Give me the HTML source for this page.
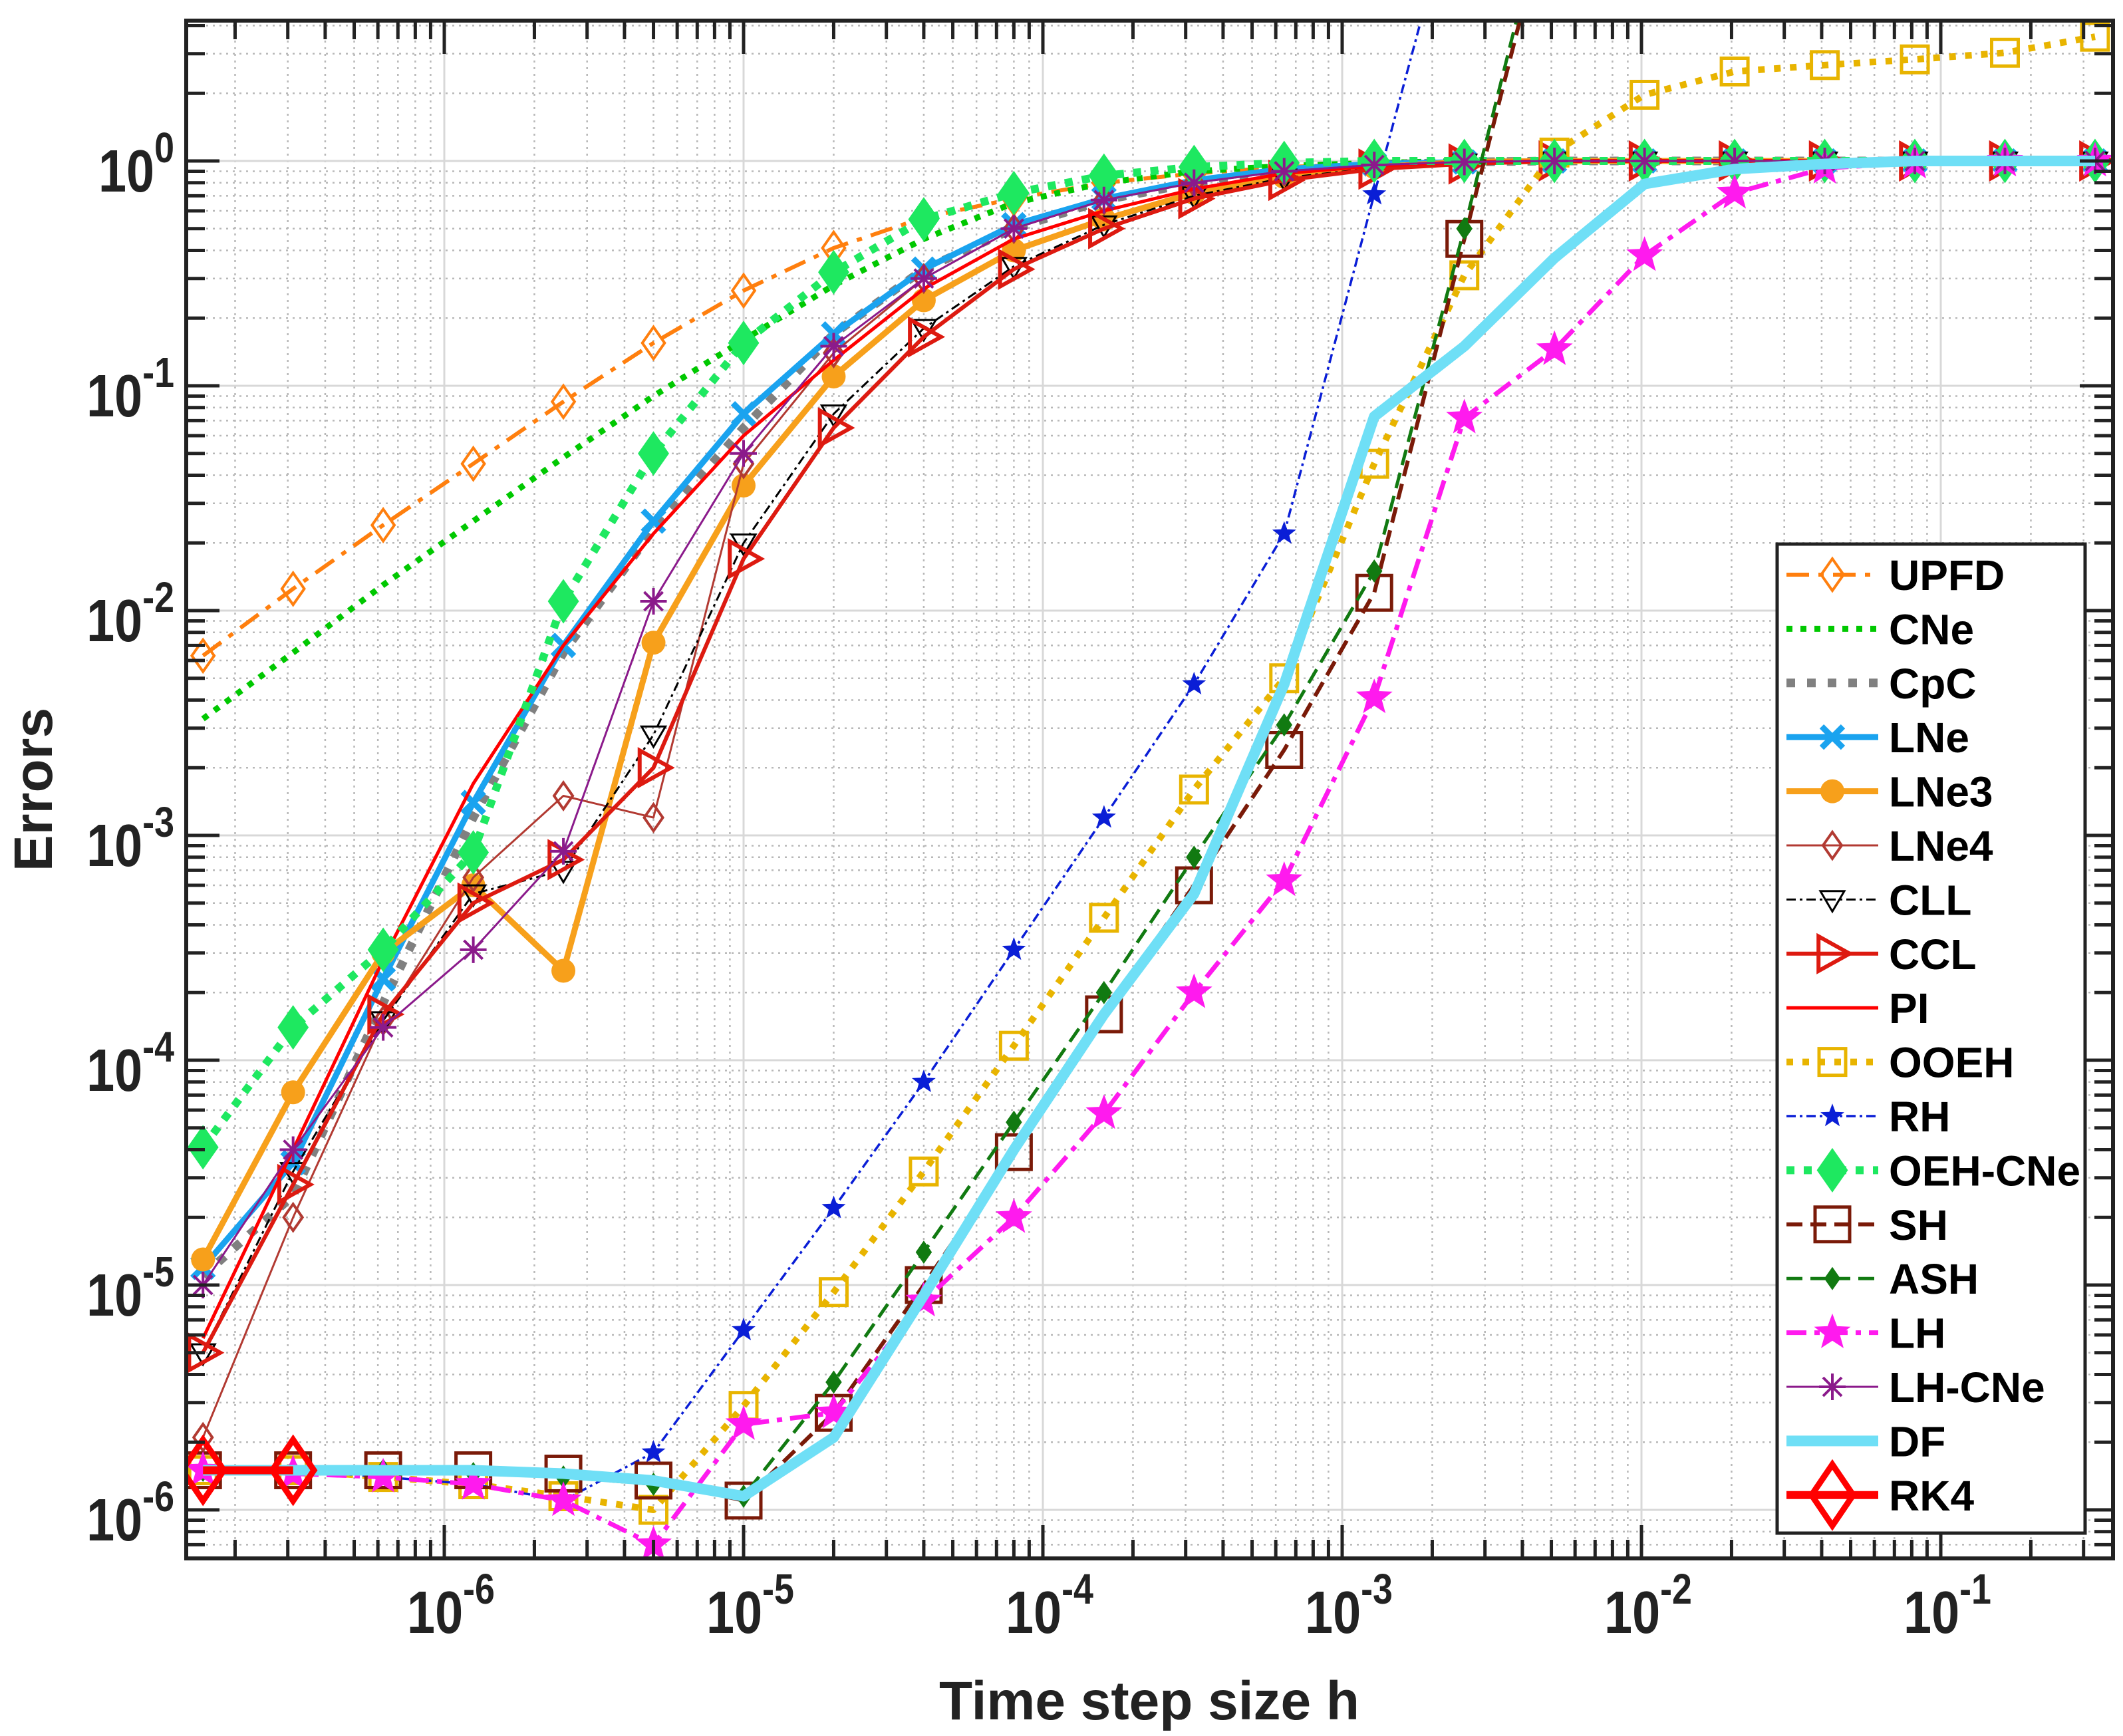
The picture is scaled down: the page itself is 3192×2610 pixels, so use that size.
<!DOCTYPE html>
<html><head><meta charset="utf-8"><title>Errors vs time step</title>
<style>
html,body{margin:0;padding:0;background:#fff;}
svg{display:block;font-family:"Liberation Sans",Arial,sans-serif;}
</style></head>
<body>
<svg id="chart" width="3192" height="2610" viewBox="0 0 3192 2610" xmlns="http://www.w3.org/2000/svg">
<defs><clipPath id="plotclip"><rect x="280" y="31" width="2897" height="2312"/></clipPath></defs>
<rect x="0" y="0" width="3192" height="2610" fill="#fff"/>
<g id="grid"></g>
<g id="series" clip-path="url(#plotclip)"></g>
<g id="axes"></g>
<g id="legend"></g>
</svg>
<script>
// ---- data ----
const stepIndex = [0,1,2,3,4,5,6,7,8,9,10,11,12,13,14,15,16,17,18,19,20,21];
const xTickExps = [-6,-5,-4,-3,-2,-1];
const yTickExps = [0,-1,-2,-3,-4,-5,-6];
const UPFD = [6.3e-3,1.25e-2,2.4e-2,4.5e-2,8.5e-2,0.155,0.265,0.41,0.56,0.68,0.8,0.88,0.94,0.97,0.99,1,1,1,1,1,1,1];
const CNe = [3.3e-3,6.5e-3,1.3e-2,2.5e-2,4.8e-2,9e-2,0.16,0.28,0.45,0.65,0.8,0.9,0.95,0.98,1,1,1,1,1,1,1,1];
const CpC = [1.1e-5,2.5e-5,1.8e-4,1.2e-3,6.5e-3,2.3e-2,6.5e-2,0.17,0.33,0.5,0.67,0.8,0.9,0.96,0.99,1,1,1,1,1,1,1];
const LNe = [1.2e-5,3.5e-5,2.3e-4,1.4e-3,7e-3,2.5e-2,7.5e-2,0.17,0.33,0.52,0.68,0.82,0.92,0.97,0.99,1,1,1,1,1,1,1];
const LNe3 = [1.3e-5,7.2e-5,3e-4,6e-4,2.5e-4,7.2e-3,3.6e-2,0.11,0.24,0.4,0.55,0.72,0.85,0.94,0.99,1,1,1,1,1,1,1];
const LNe4 = [2.1e-6,2e-5,1.5e-4,6.5e-4,1.5e-3,1.2e-3,4.5e-2,0.14,0.3,0.5,0.67,0.8,0.9,0.96,0.99,1,1,1,1,1,1,1];
const CLL = [5e-6,3.2e-5,1.5e-4,5.5e-4,7e-4,2.8e-3,2e-2,7.5e-2,0.18,0.34,0.52,0.7,0.84,0.93,0.98,1,1,1,1,1,1,1];
const CCL = [5e-6,2.8e-5,1.6e-4,5e-4,7.8e-4,2e-3,1.7e-2,6.5e-2,0.165,0.33,0.5,0.68,0.82,0.92,0.97,1,1,1,1,1,1,1];
const PI = [5.8e-6,4e-5,2.8e-4,1.7e-3,7e-3,2.2e-2,6e-2,0.13,0.27,0.45,0.6,0.75,0.88,0.95,0.99,1,1,1,1,1,1,1];
const OOEH = [1.5e-6,1.5e-6,1.4e-6,1.3e-6,1.15e-6,1.0e-6,2.9e-6,9.3e-6,3.2e-5,1.16e-4,4.3e-4,1.6e-3,5e-3,4.5e-2,0.31,1.09,1.97,2.5,2.67,2.83,3.03,3.57];
const RH = [1.5e-6,1.5e-6,1.4e-6,1.3e-6,1.1e-6,1.8e-6,6.3e-6,2.2e-5,8e-5,3.1e-4,1.2e-3,4.7e-3,2.2e-2,0.71,22,600,1e4,1e5,1e6,1e7,1e8,1e9];
const OEHCNe = [4.1e-5,1.4e-4,3.1e-4,8.4e-4,1.1e-2,5e-2,0.155,0.32,0.55,0.72,0.86,0.94,0.98,1,1,1,1,1,1,1,1,1];
const SH = [1.5e-6,1.5e-6,1.5e-6,1.5e-6,1.45e-6,1.35e-6,1.1e-6,2.7e-6,1e-5,3.9e-5,1.6e-4,6e-4,2.4e-3,1.2e-2,0.45,17,500,1e4,1e5,1e6,1e7,1e8];
const ASH = [1.5e-6,1.5e-6,1.5e-6,1.45e-6,1.4e-6,1.3e-6,1.15e-6,3.7e-6,1.4e-5,5.3e-5,2e-4,8e-4,3.1e-3,1.5e-2,0.5,20,600,1e4,1e5,1e6,1e7,1e8];
const LH = [1.5e-6,1.45e-6,1.4e-6,1.3e-6,1.1e-6,7e-7,2.4e-6,2.7e-6,8.5e-6,2e-5,5.8e-5,2e-4,6.3e-4,4.1e-3,7.2e-2,0.145,0.38,0.72,0.93,0.98,1,1];
const LHCNe = [1e-5,4e-5,1.4e-4,3.1e-4,8.5e-4,1.1e-2,5e-2,0.15,0.3,0.5,0.67,0.8,0.9,0.96,0.99,1,1,1,1,1,1,1];
const DF = [1.5e-6,1.5e-6,1.5e-6,1.5e-6,1.45e-6,1.35e-6,1.15e-6,2.1e-6,9e-6,4e-5,1.6e-4,5.5e-4,4.7e-3,7.3e-2,0.15,0.37,0.79,0.92,0.97,1,1,1];
const RK4 = [1.5e-6,1.5e-6];
const seriesNames = ["UPFD","CNe","CpC","LNe","LNe3","LNe4","CLL","CCL","PI","OOEH","RH","OEH-CNe","SH","ASH","LH","LH-CNe","DF","RK4"];

// ---- axes ----
const PL=280, PR=3177, PT=31, PB=2343;
function stepH(k){ return 1e-5*Math.pow(2,k-6); }
function X(h){ return 1118 + 450*(Math.log10(h)+5); }
function Y(v){ return 242 - 338*Math.log10(v); }
const NS="http://www.w3.org/2000/svg";
function mk(tag, attrs, parent){ const e=document.createElementNS(NS,tag); for(const k in attrs) e.setAttribute(k,attrs[k]); if(parent) parent.appendChild(e); return e; }

const styles = {
 "UPFD":{c:"#ff7f0e",w:6,d:"34,14,8,14",m:"diamond",s:24,f:false},
 "CNe":{c:"#00c800",w:9,d:"9,12",m:null},
 "CpC":{c:"#808080",w:13,d:"13,18",m:null},
 "LNe":{c:"#1aa3ef",w:9,d:"",m:"x",s:16,f:true},
 "LNe3":{c:"#f7a01b",w:9,d:"",m:"circle",s:18,f:true},
 "LNe4":{c:"#b23a32",w:3,d:"",m:"diamond",s:20,f:false},
 "CLL":{c:"#000",w:3,d:"14,6,4,6",m:"tridown",s:18,f:false},
 "CCL":{c:"#dd1a10",w:6,d:"",m:"triright",s:26,f:false},
 "PI":{c:"#ff0000",w:5,d:"",m:null},
 "OOEH":{c:"#e8b400",w:10,d:"10,14",m:"square",s:20,f:false},
 "RH":{c:"#0a1ed6",w:3.5,d:"14,6,4,6",m:"star",s:16,f:true},
 "OEH-CNe":{c:"#1ee860",w:12,d:"12,14",m:"diamond",s:30,f:true},
 "SH":{c:"#7a1a08",w:6,d:"24,12",m:"square",s:26,f:false},
 "ASH":{c:"#117a11",w:5,d:"24,12",m:"diamond",s:14,f:true},
 "LH":{c:"#ff1aee",w:7,d:"30,12,8,12",m:"star",s:26,f:true},
 "LH-CNe":{c:"#8b1a8b",w:3,d:"",m:"asterisk",s:20,f:false},
 "DF":{c:"#6fdff6",w:16,d:"",m:null},
 "RK4":{c:"#ff0000",w:12,d:"",m:"bigdiamond",s:46,f:false}
};
const dataMap = {"UPFD":UPFD,"CNe":CNe,"CpC":CpC,"LNe":LNe,"LNe3":LNe3,"LNe4":LNe4,"CLL":CLL,"CCL":CCL,"PI":PI,"OOEH":OOEH,"RH":RH,"OEH-CNe":OEHCNe,"SH":SH,"ASH":ASH,"LH":LH,"LH-CNe":LHCNe,"DF":DF,"RK4":RK4};

function starPts(x,y,r){ let p=[]; for(let i=0;i<10;i++){ const a=-Math.PI/2+i*Math.PI/5; const rr=i%2?r*0.42:r; p.push((x+rr*Math.cos(a)).toFixed(1)+","+(y+rr*Math.sin(a)).toFixed(1)); } return p.join(" "); }
function marker(g, type, x, y, s, c, fill){
 let e;
 const fc = fill? c : "none";
 if(type==="diamond"){ e=mk("polygon",{points:`${x},${y-s} ${x+s*0.7},${y} ${x},${y+s} ${x-s*0.7},${y}`,fill:fc,stroke:c,"stroke-width":4},g); }
 else if(type==="bigdiamond"){ e=mk("polygon",{points:`${x},${y-s} ${x+s*0.68},${y} ${x},${y+s} ${x-s*0.68},${y}`,fill:"none",stroke:c,"stroke-width":9},g); }
 else if(type==="circle"){ e=mk("circle",{cx:x,cy:y,r:s,fill:c},g); }
 else if(type==="square"){ e=mk("rect",{x:x-s,y:y-s,width:2*s,height:2*s,fill:"none",stroke:c,"stroke-width":5},g); }
 else if(type==="tridown"){ e=mk("polygon",{points:`${x-s},${y-s*0.7} ${x+s},${y-s*0.7} ${x},${y+s}`,fill:"none",stroke:c,"stroke-width":3},g); }
 else if(type==="triright"){ e=mk("polygon",{points:`${x-s*0.8},${y-s} ${x+s},${y} ${x-s*0.8},${y+s}`,fill:"none",stroke:c,"stroke-width":6},g); }
 else if(type==="star"){ e=mk("polygon",{points:starPts(x,y,s),fill:c,stroke:c,"stroke-width":2},g); }
 else if(type==="x"){ e=mk("path",{d:`M${x-s},${y-s}L${x+s},${y+s}M${x-s},${y+s}L${x+s},${y-s}`,stroke:c,"stroke-width":9},g); }
 else if(type==="asterisk"){ e=mk("path",{d:`M${x-s},${y}L${x+s},${y}M${x},${y-s}L${x},${y+s}M${x-s*0.7},${y-s*0.7}L${x+s*0.7},${y+s*0.7}M${x-s*0.7},${y+s*0.7}L${x+s*0.7},${y-s*0.7}`,stroke:c,"stroke-width":4},g); }
 return e;
}

// grid
const grid=document.getElementById('grid');
const axes=document.getElementById('axes');
for(let e=-7;e<=0;e++){ for(let m=1;m<=9;m++){ const h=m*Math.pow(10,e); const x=X(h); if(x<=PL+1||x>=PR-1) continue;
  const ln=mk("line",{x1:x,y1:PT,x2:x,y2:PB,stroke:m===1?"#d8d8d8":"#b8b8b8","stroke-width":m===1?3:2.5,"stroke-dasharray":m===1?"":"3,7"},grid);
  
  
  const big=m===1?50:28;
  mk("line",{x1:x,y1:PB,x2:x,y2:PB-big,stroke:"#222","stroke-width":5},axes);
  mk("line",{x1:x,y1:PT,x2:x,y2:PT+big,stroke:"#222","stroke-width":5},axes);
}}
for(let e=-7;e<=1;e++){ for(let m=1;m<=9;m++){ const v=m*Math.pow(10,e); const y=Y(v); if(y<=PT+1||y>=PB-1) continue;
  const ln=mk("line",{x1:PL,y1:y,x2:PR,y2:y,stroke:m===1?"#d8d8d8":"#b8b8b8","stroke-width":m===1?3:2.5,"stroke-dasharray":m===1?"":"3,7"},grid);
  
  
  const big=m===1?50:28;
  mk("line",{x1:PL,y1:y,x2:PL+big,y2:y,stroke:"#222","stroke-width":5},axes);
  mk("line",{x1:PR,y1:y,x2:PR-big,y2:y,stroke:"#222","stroke-width":5},axes);
}}
const box=mk("rect",{x:PL,y:PT,width:PR-PL,height:PB-PT,fill:"none",stroke:"#222","stroke-width":6},axes);



// tick labels (condensed like the reference font)
xTickExps.forEach(e=>{ const x=X(Math.pow(10,e));
  const t=mk("text",{x:0,y:0,"text-anchor":"middle","font-size":90,"font-weight":"bold",fill:"#222",transform:`translate(${x+10},2455) scale(0.84,1)`},axes);
  t.textContent="10";
  const s=mk("tspan",{dy:-44,"font-size":64},t); s.textContent=String(e);
  
  
});
yTickExps.forEach(e=>{ const y=Y(Math.pow(10,e));
  const t=mk("text",{x:0,y:0,"text-anchor":"end","font-size":90,"font-weight":"bold",fill:"#222",transform:`translate(262,${y+46}) scale(0.84,1)`},axes);
  t.textContent="10";
  const s=mk("tspan",{dy:-44,"font-size":64},t); s.textContent=String(e);
  
  
});
const xt=mk("text",{x:1728,y:2585,"text-anchor":"middle","font-size":82,"font-weight":"bold",fill:"#222"},axes);
xt.textContent="Time step size h";


const yt=mk("text",{x:0,y:0,"text-anchor":"middle","font-size":82,"font-weight":"bold",fill:"#222",transform:"translate(78,1187) rotate(-90)"},axes);
yt.textContent="Errors";



// series
const sg=document.getElementById('series');
seriesNames.forEach(name=>{
  const st=styles[name], vals=dataMap[name];
  const g=mk("g",{},sg);
  
  
  const pts=vals.map((v,i)=>X(stepH(stepIndex[i])).toFixed(1)+","+Y(v).toFixed(1)).join(" ");
  const pl=mk("polyline",{points:pts,fill:"none",stroke:st.c,"stroke-width":st.w,"stroke-dasharray":st.d,"stroke-linejoin":"round"},g);
  
  
  if(st.m){ vals.forEach((v,i)=>{ const y=Y(v); if(y<PT-60||y>PB+60) return;
    const m=marker(g,st.m,X(stepH(stepIndex[i])),y,st.s,st.c,st.f);
    
    
  }); }
});

// legend
const lg=document.getElementById('legend');
const lb=mk("rect",{x:2672,y:818,width:463,height:1487,fill:"#fff",stroke:"#222","stroke-width":5},lg);


seriesNames.forEach((name,i)=>{
  const st=styles[name]; const y=864+i*81.4;
  const g=mk("g",{},lg);
  
  
  mk("line",{x1:2686,y1:y,x2:2824,y2:y,stroke:st.c,"stroke-width":st.w,"stroke-dasharray":st.d},g);
  if(st.m) marker(g,st.m,2755,y,st.s,st.c,st.f);
  const t=mk("text",{x:2840,y:y+23,"font-size":64,"font-weight":"bold",fill:"#000"},g);
  t.textContent=name;
});
</script>
</body></html>
